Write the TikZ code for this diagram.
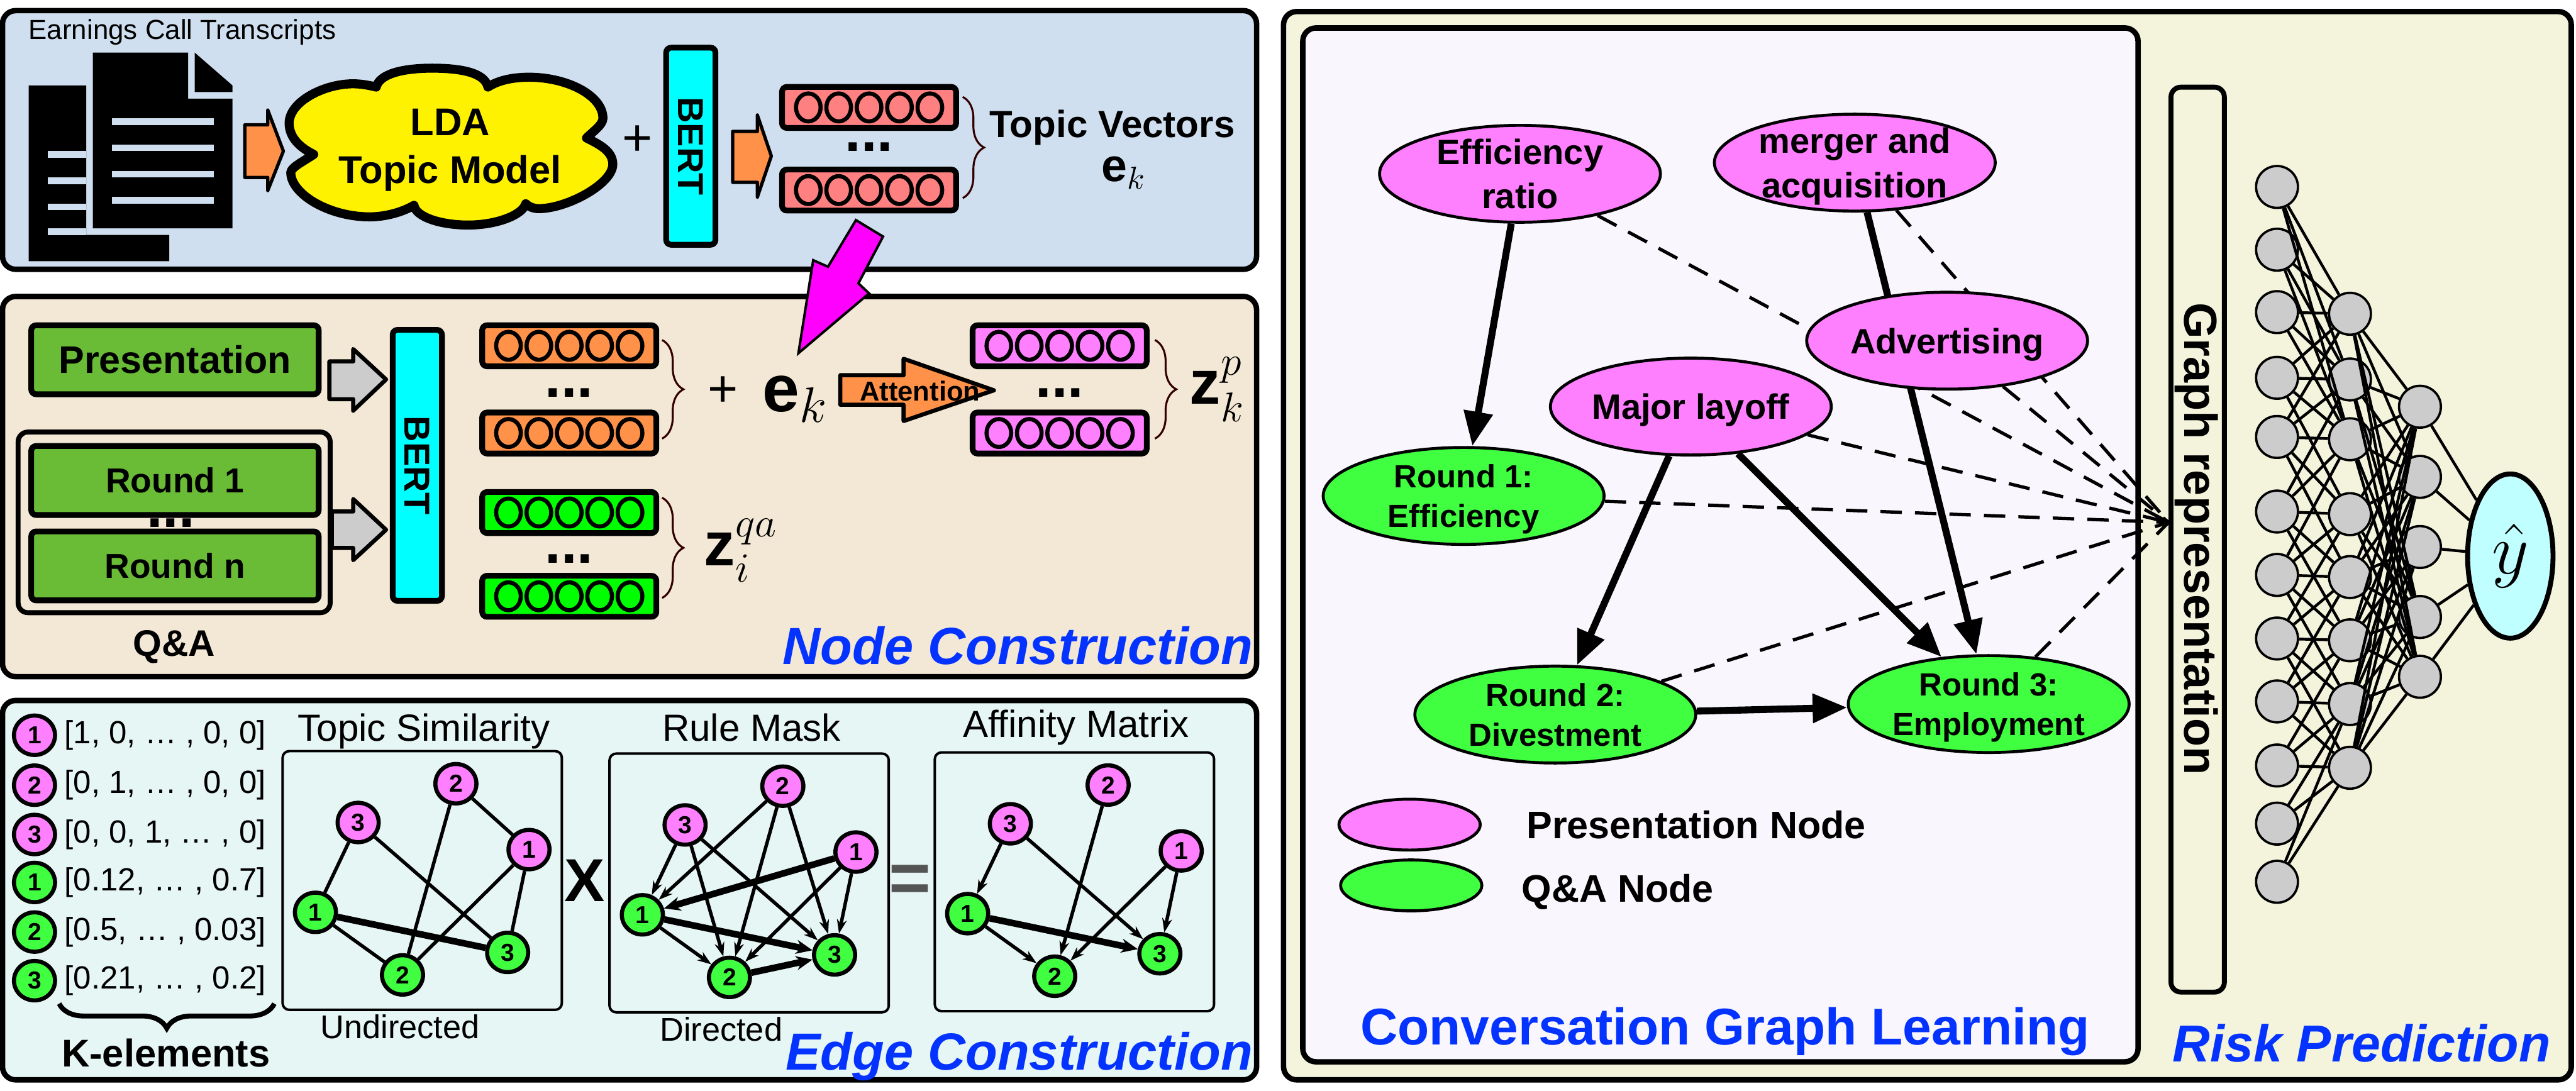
\documentclass[tikz,border=0pt]{standalone}
\usepackage{amsmath}
\usepackage{fontspec}
\setmainfont{Liberation Sans}
\usepackage{tikz}
\usetikzlibrary{shapes.geometric, arrows.meta, positioning, decorations.pathreplacing}
\definecolor{topicblue}{HTML}{CFDFEF}
\definecolor{nodetan}{HTML}{F3E7D5}
\definecolor{edgemint}{HTML}{E6F6F4}
\definecolor{riskcream}{HTML}{F4F4DC}
\definecolor{graphlilac}{HTML}{F9F6FD}
\definecolor{salmon}{HTML}{FF8080}
\definecolor{pumpkin}{HTML}{FF9248}
\definecolor{orchid}{HTML}{FF80FF}
\definecolor{lime}{HTML}{40FF40}
\definecolor{puregreen}{HTML}{00FF00}
\definecolor{leaf}{HTML}{6ABB35}
\definecolor{cloudyellow}{HTML}{FFF200}
\definecolor{titleblue}{HTML}{0433FF}
\definecolor{aqua}{HTML}{C0FFFF}
\definecolor{bertcyan}{HTML}{00FFFF}
\definecolor{boltmagenta}{HTML}{FF00FF}
\newcommand{\fnt}[2]{\fontsize{#1}{#2}\selectfont}

\begin{document}
\begin{tikzpicture}[
    x=0.02cm, y=-0.02cm,
    panel/.style={draw, line width=0.066cm, rounded corners=0.16cm, inner sep=0pt},
    bertbox/.style={draw, fill=bertcyan, line width=0.07cm, rounded corners=0.06cm,
                    minimum width=0.6cm, minimum height=2.4cm, inner sep=0pt},
    berttext/.style={rotate=-90, font=\fnt{12.5}{15}\bfseries},
    vecbox/.style={draw, line width=0.07cm, rounded corners=0.06cm,
                   minimum width=2.12cm, minimum height=0.5cm, inner sep=0pt},
    vecdot/.style={draw, ellipse, line width=0.05cm, minimum width=0.3cm,
                   minimum height=0.34cm, inner sep=0pt},
    dots/.style={font=\fnt{20}{22}\bfseries, inner sep=0pt},
    leafbox/.style={draw, fill=leaf, line width=0.07cm, rounded corners=0.06cm,
                    minimum width=3.5cm, minimum height=0.84cm, inner sep=0pt,
                    font=\fnt{12}{14}\bfseries},
    blockarrow/.style={draw, line width=0.04cm, line join=round},
    bracket/.style={decorate, decoration={brace, amplitude=0.26cm},
                    line width=0.024cm, draw=black!80!red},
    numnode/.style={draw, ellipse, line width=0.05cm, minimum width=0.5cm,
                    minimum height=0.48cm, inner sep=0pt, font=\fnt{8.5}{10}\bfseries},
    titlelabel/.style={font=\fnt{13.1}{15}, inner sep=0pt},
    undirbox/.style={draw, line width=0.03cm, rounded corners=0.08cm,
                     minimum width=3.4cm, minimum height=3.15cm, inner sep=0pt},
    edge/.style={line width=0.042cm},
    heavyedge/.style={line width=0.08cm},
    diredge/.style={edge, -{Stealth[length=0.17cm, width=0.12cm]}},
    heavydir/.style={heavyedge, -{Stealth[length=0.2cm, width=0.17cm]}},
    stagetitle/.style={font=\fnt{18.1}{22}\bfseries\itshape, text=titleblue, inner sep=0pt},
    topicnode/.style={draw, ellipse, fill=orchid, line width=0.036cm, minimum width=3.42cm,
                      minimum height=1.18cm, inner sep=0pt, inner ysep=-0.3cm, text depth=0pt,
                      align=center, font=\fnt{12.2}{15.3}\bfseries},
    roundnode/.style={topicnode, fill=lime, font=\fnt{11.1}{13.7}\bfseries},
    strong/.style={line width=0.085cm, -{Triangle[length=0.42cm, width=0.34cm]}},
    weak/.style={line width=0.04cm, dash pattern=on 0.26cm off 0.16cm},
    nncell/.style={draw, circle, fill=black!20, line width=0.028cm,
                   minimum size=0.51cm, inner sep=0pt},
    nnedge/.style={line width=0.034cm},
]
    \useasboundingbox (0,0) rectangle (1568,664);

    % panels
    \node[panel, fill=topicblue, minimum width=15.27cm, minimum height=3.15cm] (topic) at (383.2,85.2) {};
    \node[panel, fill=nodetan, minimum width=15.27cm, minimum height=4.63cm] (nodes) at (383.2,296.2) {};
    \node[panel, fill=edgemint, minimum width=15.27cm, minimum height=4.62cm] (edges) at (383.2,541.9) {};
    \node[panel, fill=riskcream, minimum width=15.68cm, minimum height=13.01cm] (risk) at (1173.2,332.2) {};
    \node[panel, fill=graphlilac, minimum width=10.17cm, minimum height=12.59cm] (graph) at (1047.2,331.7) {};

    % transcripts
    \node[font=\fnt{9.56}{11}, inner sep=0pt] (transcripts) at (111,19.5) {Earnings Call Transcripts};
    \fill (17.5,52) -- (52.5,52) -- (52.5,143) -- (103,143) -- (103,159) -- (17.5,159) -- cycle;
    \foreach \y in {92,108,124,139}
        \fill[topicblue] (29,\y) rectangle (52.5,\y+4);
    \fill (56.5,32) -- (114.5,32) -- (114.5,60) -- (141.5,60) -- (141.5,139) -- (56.5,139) -- cycle;
    \fill (118.5,32) -- (141.5,52) -- (141.5,56) -- (118.5,56) -- cycle;
    \foreach \y in {72,88,104,120}
        \fill[topicblue] (68,\y) rectangle (130,\y+4);
    \draw[blockarrow, fill=pumpkin] (149,76) -- (163,76) -- (163,67) -- (172.5,92)
        -- (163,116) -- (163,108) -- (149,108) -- cycle;

    % LDA cloud
    \draw[line width=0.11cm, fill=cloudyellow, line join=round] (229,53)
        .. controls (231,45) and (245,41.5) .. (263,41.5)
        .. controls (280,41.5) and (295,44) .. (297,53)
        .. controls (303,49) and (312,47) .. (322,47)
        .. controls (345,47) and (367,58) .. (367,72)
        .. controls (367,76) and (361,80) .. (357,84)
        .. controls (365,88) and (373,92) .. (373,100)
        .. controls (373,112) and (345,127) .. (328,127)
        .. controls (325,127) and (322,126) .. (320,124)
        .. controls (318,131) and (302,137) .. (285,137)
        .. controls (268,137) and (253,132) .. (252,125)
        .. controls (245,129) and (235,132) .. (225,132)
        .. controls (200,132) and (177,118) .. (177,105)
        .. controls (177,102) and (185,98) .. (191,94)
        .. controls (183,90) and (176,84) .. (176,75)
        .. controls (176,62) and (197,51) .. (215,51)
        .. controls (220,51) and (225,52) .. (229,53) -- cycle;
    \node[font=\fnt{13.4}{16.5}\bfseries, align=center, inner sep=0pt] (lda) at (274,91.5)
        {LDA\\Topic Model};
    \node[font=\fnt{18}{20}, inner sep=0pt] (plusa) at (388,85.5) {+};
    \node[bertbox] (berta) at (420.5,89) {};
    \node[berttext] (bertatext) at (berta) {BERT};
    \draw[blockarrow, fill=pumpkin] (446,80) -- (461,80) -- (461,70) -- (469.5,95)
        -- (461,120) -- (461,111) -- (446,111) -- cycle;

    % vector stacks
    \foreach \vname/\vx/\vy/\vcol in {tva/529/65.4/salmon, tvb/529/115.7/salmon,
            preb/346.5/210.5/pumpkin, prea/346.5/263.6/pumpkin,
            qaa/346.5/312/puregreen, qab/346.5/363/puregreen,
            zpa/645/210.5/orchid, zpb/645/263.6/orchid} {
        \node[vecbox, fill=\vcol] (\vname) at (\vx,\vy) {};
        \foreach \k [evaluate=\k as \dx using (\k-3)*18.5] in {1,...,5}
            \node[vecdot, fill=\vcol] (\vname\k) at (\vx+\dx,\vy) {};
    }
    \node[dots] (tvdots) at (529,89.6) {...};
    \node[dots] (predots) at (346.5,239) {...};
    \node[dots] (qadots) at (346.5,340) {...};
    \node[dots] (zpdots) at (645,239) {...};

    \draw[bracket] (586,59) -- (586,120.6);
    \node[font=\fnt{13.1}{15}\bfseries, inner sep=0pt] (topicvectors) at (677,77.5) {Topic Vectors};
    \node[font=\fnt{16}{18}, inner sep=0pt] (ektop) at (684,105) {$\mathbf{e}_k$};

    % node construction
    \node[leafbox, font=\fnt{13.3}{15}\bfseries] (presentation) at (106.5,219) {Presentation};
    \node[draw, line width=0.06cm, rounded corners=0.12cm, fill=nodetan, minimum width=3.8cm,
          minimum height=2.2cm] (qabox) at (106,318) {};
    \node[leafbox] (roundone) at (106.5,292.5) {Round 1};
    \node[leafbox] (roundn) at (106.5,344.5) {Round n};
    \node[dots] (rounddots) at (104,318.5) {...};
    \node[below=0.18cm of qabox, font=\fnt{12.8}{15}\bfseries, inner sep=0pt] (qa) {Q\&A};
    \draw[blockarrow, fill=black!20, line width=0.05cm] (200.5,220) -- (215,220) -- (215,212.5)
        -- (235,231) -- (215,250) -- (215,243) -- (200.5,243) -- cycle;
    \draw[blockarrow, fill=black!20, line width=0.05cm] (202,311.4) -- (215,311.4) -- (215,303.8)
        -- (235,322.5) -- (215,341) -- (215,333.6) -- (202,333.6) -- cycle;
    \node[bertbox, minimum height=3.3cm] (bertb) at (254,283.3) {};
    \node[berttext] (bertbtext) at (bertb) {BERT};

    \draw[bracket] (403,207) -- (403,267);
    \draw[bracket] (403,303) -- (403,364);
    \draw[bracket] (703,207) -- (703,267);
    \node[font=\fnt{18}{20}, inner sep=0pt] (plusb) at (440,238.5) {+};
    \node[font=\fnt{23}{25}, inner sep=0pt] (ekmid) at (484,243) {$\mathbf{e}_k$};
    \draw[blockarrow, fill=pumpkin, line width=0.05cm] (511.5,228.4) -- (550,228.4) -- (550,218.4)
        -- (605,237.6) -- (550,256.3) -- (550,246.4) -- (511.5,246.4) -- cycle;
    \node[font=\fnt{9.5}{11}\bfseries, inner sep=0pt] (attention) at (560,238) {Attention};
    \node[font=\fnt{21.5}{23}, inner sep=0pt] (zpk) at (741,237) {$\mathbf{z}_k^p$};
    \node[font=\fnt{21.5}{23}, inner sep=0pt] (zqa) at (451,335) {$\mathbf{z}_i^{qa}$};
    \node[stagetitle, anchor=east] (nodetitle) at (763,393) {Node Construction};

    % edge construction
    \foreach \kname/\knum/\kfill/\ky/\ktxt in {
            ka/1/orchid/447.6/{[1, 0, … , 0, 0]},
            kb/2/orchid/478/{[0, 1, … , 0, 0]},
            kc/3/orchid/508/{[0, 0, 1, … , 0]},
            kd/1/lime/537.2/{[0.12, … , 0.7]},
            ke/2/lime/567.4/{[0.5, … , 0.03]},
            kf/3/lime/597/{[0.21, … , 0.2]}} {
        \node[numnode, fill=\kfill] (\kname) at (21,\ky) {\knum};
        \node[font=\fnt{11.1}{13}, anchor=west, inner sep=0pt] (\kname txt) at (39,\ky) {\ktxt};
    }
    \draw[decorate, decoration={brace, amplitude=0.3cm}, line width=0.06cm] (167,611) -- (36,611);
    \node[font=\fnt{13.4}{16}\bfseries, inner sep=0pt] (kelements) at (101,641) {K-elements};

    \node[undirbox] (simbox) at (257,536) {};
    \node[undirbox] (maskbox) at (456,537.5) {};
    \node[undirbox] (affbox) at (654,536.8) {};
    \node[titlelabel] (simtitle) at (258,445) {Topic Similarity};
    \node[titlelabel] (masktitle) at (457.5,443) {Rule Mask};
    \node[titlelabel] (afftitle) at (655,443) {Affinity Matrix};
    \node[font=\fnt{11.4}{13}, inner sep=0pt] (undirected) at (243.5,625) {Undirected};
    \node[font=\fnt{11.4}{13}, inner sep=0pt] (directed) at (439,626.6) {Directed};
    \node[font=\fnt{21}{23}\bfseries, inner sep=0pt] (times) at (356,536) {X};
    \node[font=\fnt{25}{27}\bfseries, text=black!67, inner sep=0pt] (equals) at (554,538) {=};
    \node[stagetitle, anchor=east] (edgetitle) at (763,643) {Edge Construction};

    \foreach \g/\gx/\gy in {a/0/0, b/199/1.5, c/397/0.8} {
        \node[numnode, fill=orchid] (\g pb) at (277.5+\gx,477.1+\gy) {2};
        \node[numnode, fill=orchid] (\g pc) at (218+\gx,500.7+\gy) {3};
        \node[numnode, fill=orchid] (\g pa) at (322+\gx,517.2+\gy) {1};
        \node[numnode, fill=lime] (\g qa) at (192+\gx,555.4+\gy) {1};
        \node[numnode, fill=lime] (\g qc) at (309+\gx,579.8+\gy) {3};
        \node[numnode, fill=lime] (\g qb) at (245+\gx,593.5+\gy) {2};
    }
    \foreach \s/\t in {aqa/apc, apc/aqc, apb/apa, apb/aqb, apa/aqb, apa/aqc, aqa/aqb}
        \draw[edge] (\s) -- (\t);
    \draw[heavyedge] (aqa) -- (aqc);
    \foreach \s/\t in {bpc/bqa, bpc/bqb, bpc/bqc, bpb/bqa, bpb/bqb, bpb/bqc, bpa/bqb, bpa/bqc, bqa/bqb}
        \draw[diredge] (\s) -- (\t);
    \foreach \s/\t in {bpa/bqa, bqa/bqc, bqb/bqc}
        \draw[heavydir] (\s) -- (\t);
    \foreach \s/\t in {cpc/cqa, cpc/cqc, cpb/cqb, cpa/cqb, cpa/cqc, cqa/cqb}
        \draw[diredge] (\s) -- (\t);
    \draw[heavydir] (cqa) -- (cqc);

    % conversation graph
    \coordinate (conv) at (1320,318);
    \node[topicnode] (efficiency) at (925.2,105.8) {Efficiency\\ratio};
    \node[topicnode] (merger) at (1129,99) {merger and\\acquisition};
    \node[topicnode] (layoff) at (1029.2,247.5) {Major layoff};
    \node[roundnode] (roundeff) at (890.9,301.9) {Round 1:\\Efficiency};
    \node[roundnode] (rounddiv) at (946.7,435) {Round 2:\\Divestment};
    \node[roundnode] (roundemp) at (1210.5,428.6) {Round 3:\\Employment};
    \draw[strong] (merger) -- (roundemp);
    \foreach \s in {efficiency, merger, layoff, roundeff, rounddiv, roundemp}
        \draw[weak] (\s) -- (conv);
    \node[topicnode] (advertising) at (1185.2,207.4) {Advertising};
    \draw[weak] (advertising) -- (conv);
    \draw[strong] (efficiency) -- (roundeff);
    \draw[strong] (layoff) -- (rounddiv);
    \draw[strong] (layoff) -- (roundemp);
    \draw[strong] (rounddiv) -- (roundemp);

    \node[topicnode, minimum width=1.72cm, minimum height=0.62cm] (legendpres) at (858,502) {};
    \node[roundnode, minimum width=1.72cm, minimum height=0.62cm] (legendqa) at (859,539) {};
    \node[right=0.54cm of legendpres, font=\fnt{13.3}{15}\bfseries, inner sep=0pt] (legendprestext) {Presentation Node};
    \node[right=0.46cm of legendqa, yshift=-0.08cm, font=\fnt{13.3}{15}\bfseries, inner sep=0pt] (legendqatext) {Q\&A Node};
    \node[font=\fnt{17.9}{21}\bfseries, text=titleblue, inner sep=0pt] (graphtitle) at (1050,628) {Conversation Graph Learning};

    % risk prediction
    \node[draw, line width=0.06cm, rounded corners=0.12cm, minimum width=0.65cm,
          minimum height=11.02cm, inner sep=0pt] (graphrep) at (1337.7,328.5) {};
    \node[rotate=-90, font=\fnt{16.1}{18}\bfseries, inner sep=0pt] (graphreptext) at (1337,328) {Graph representation};
    \foreach \i/\yy in {1/113.8, 2/152, 3/190, 4/230, 5/266, 6/311.4, 7/350, 8/388.7, 9/427, 10/466, 11/501.4, 12/536.8}
        \node[nncell] (inp\i) at (1386,\yy) {};
    \foreach \j/\yy in {1/191, 2/231, 3/267.4, 4/313, 5/351.3, 6/389.8, 7/428.6, 8/467.4}
        \node[nncell] (hid\j) at (1430.4,\yy) {};
    \foreach \k/\yy in {1/247.6, 2/290.3, 3/333, 4/375.6, 5/412}
        \node[nncell] (res\k) at (1473,\yy) {};
    \node[draw, ellipse, fill=aqua, line width=0.06cm, minimum width=1.04cm, minimum height=2cm,
          inner sep=0pt, font=\fnt{25}{27}] (yhat) at (1528,338.5) {$\hat{y}$};
    \foreach \i/\jlo/\jhi in {1/1/3, 2/1/3, 3/1/3, 4/1/4, 5/1/5, 6/2/6, 7/3/7, 8/4/8, 9/5/8, 10/6/8, 11/7/8, 12/7/8}
        \foreach \j in {\jlo,...,\jhi}
            \draw[nnedge] (inp\i) -- (hid\j);
    \foreach \j/\klist in {1/{1,2,4,5}, 2/{1,2,4,5}, 3/{1,2,4,5}, 4/{1,2,4,5}, 5/{1,2,3,4,5}, 6/{1,2,3,4,5}, 7/{1,2,3,4,5}, 8/{1,2,3,4,5}}
        \foreach \k in \klist
            \draw[nnedge] (hid\j) -- (res\k);
    \foreach \k in {1,...,5}
        \draw[nnedge] (res\k) -- (yhat);
    \node[stagetitle, font=\fnt{18}{20}\bfseries\itshape, anchor=east] (risktitle) at (1553,635) {Risk Prediction};

    % topic vectors into the node panel
    \draw[blockarrow, fill=boltmagenta, line width=0.03cm, line join=miter] (521,134) -- (537.5,144) -- (522.5,172.5)
        -- (529,178.6) -- (486,215) -- (495,158.4) -- (504,162.4) -- cycle;
\end{tikzpicture}
\end{document}
